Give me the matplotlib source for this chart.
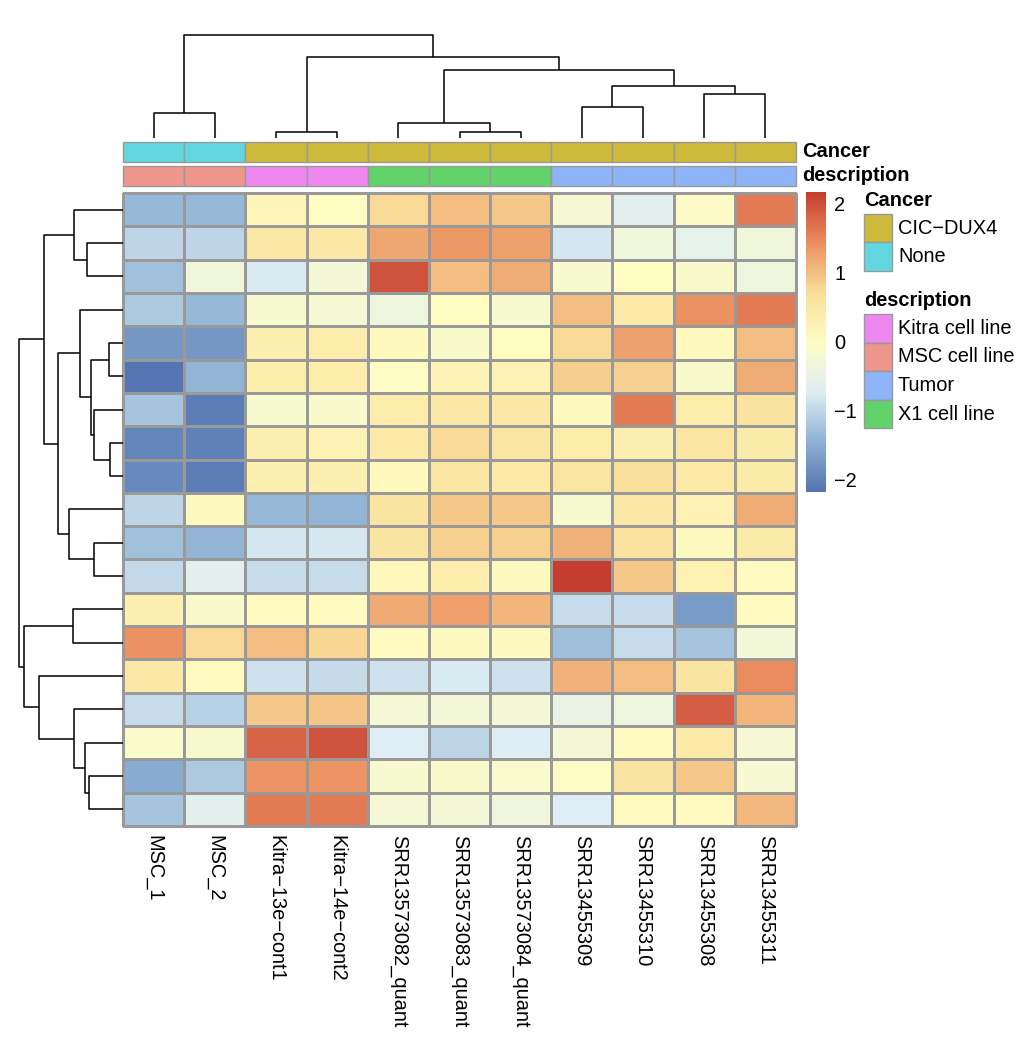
import numpy as np
import matplotlib
matplotlib.use("Agg")
import matplotlib.pyplot as plt
from matplotlib.colors import LinearSegmentedColormap
from matplotlib.patches import Rectangle

plt.rcParams['font.family'] = ['Liberation Sans', 'DejaVu Sans']

# column order as shown (already clustered)
samples = ["MSC_1", "MSC_2", "Kitra\u221213e\u2212cont1", "Kitra\u221214e\u2212cont2",
           "SRR13573082_quant", "SRR13573083_quant", "SRR13573084_quant",
           "SRR13455309", "SRR13455310", "SRR13455308", "SRR13455311"]
cancer = ["None", "None", "CIC-DUX4", "CIC-DUX4", "CIC-DUX4", "CIC-DUX4", "CIC-DUX4",
          "CIC-DUX4", "CIC-DUX4", "CIC-DUX4", "CIC-DUX4"]
description = ["MSC cell line", "MSC cell line", "Kitra cell line", "Kitra cell line",
               "X1 cell line", "X1 cell line", "X1 cell line",
               "Tumor", "Tumor", "Tumor", "Tumor"]

cancer_colors = {"CIC-DUX4": "#CDB93B", "None": "#62D6DF"}
desc_colors = {"Kitra cell line": "#EE88F0", "MSC cell line": "#EE968C",
               "Tumor": "#8CB4F6", "X1 cell line": "#62D36A"}

# scaled values, rows in displayed order
values = np.array([
    [-1.35, -1.35, 0.20, 0.05, 0.80, 1.05, 0.95, -0.20, -0.60, -0.05, 1.65],
    [-1.00, -1.00, 0.55, 0.55, 1.25, 1.40, 1.30, -0.80, -0.30, -0.55, -0.30],
    [-1.25, -0.30, -0.75, -0.25, 2.00, 1.05, 1.20, -0.15, 0.05, -0.10, -0.35],
    [-1.15, -1.35, -0.15, -0.20, -0.35, 0.05, -0.15, 1.05, 0.50, 1.45, 1.65],
    [-1.75, -1.75, 0.35, 0.40, 0.10, -0.10, 0.05, 0.80, 1.30, 0.10, 1.05],
    [-2.15, -1.40, 0.40, 0.40, 0.00, 0.25, 0.30, 0.90, 0.88, -0.10, 1.20],
    [-1.20, -2.05, -0.15, -0.10, 0.40, 0.55, 0.55, 0.10, 1.65, 0.40, 0.65],
    [-1.95, -2.00, 0.35, 0.30, 0.50, 0.80, 0.60, 0.40, 0.35, 0.60, 0.45],
    [-1.90, -2.05, 0.35, 0.35, 0.15, 0.60, 0.50, 0.60, 0.72, 0.50, 0.45],
    [-1.00, 0.10, -1.35, -1.40, 0.62, 0.95, 0.95, -0.15, 0.55, 0.30, 1.20],
    [-1.25, -1.40, -0.80, -0.78, 0.62, 0.88, 0.88, 1.15, 0.68, 0.10, 0.45],
    [-0.95, -0.60, -0.92, -0.92, 0.15, 0.40, 0.12, 2.20, 0.95, 0.33, 0.08],
    [0.38, -0.10, 0.08, 0.08, 1.22, 1.32, 1.12, -0.92, -0.92, -1.70, 0.08],
    [1.45, 0.80, 1.05, 0.82, 0.08, 0.10, 0.10, -1.28, -0.92, -1.22, -0.28],
    [0.52, 0.08, -0.85, -0.93, -0.85, -0.75, -0.85, 1.15, 1.05, 0.62, 1.50],
    [-0.92, -1.05, 0.95, 0.98, -0.22, -0.28, -0.25, -0.45, -0.35, 1.90, 1.12],
    [-0.08, -0.15, 1.85, 2.00, -0.70, -1.00, -0.72, -0.25, 0.08, 0.50, -0.20],
    [-1.50, -1.15, 1.42, 1.42, -0.15, -0.10, -0.12, -0.02, 0.62, 0.95, -0.18],
    [-1.20, -0.60, 1.65, 1.65, -0.22, -0.25, -0.32, -0.70, 0.08, 0.08, 1.10],
])

# dendrogram merges: (left id, right id, height); ids >= n are earlier merges
col_merges = [(2, 3, 6), (5, 6, 6), (4, 12, 15.3), (0, 1, 25.3), (7, 8, 31),
              (9, 10, 44.3), (15, 16, 52.3), (13, 17, 68.3), (11, 18, 81.3),
              (14, 19, 103.3)]
row_merges = [(7, 8, 13), (4, 5, 14), (6, 19, 28.7), (10, 11, 29), (20, 21, 31.7),
              (17, 18, 34.3), (1, 2, 36), (16, 24, 38.3), (3, 23, 42.7), (0, 25, 49),
              (15, 26, 49.3), (12, 13, 50.3), (9, 22, 54), (27, 31, 65.3),
              (28, 32, 79.3), (14, 29, 84.3), (30, 34, 99), (33, 35, 104.3)]

W, H = 1026, 1040
fig = plt.figure(figsize=(W / 100, H / 100), dpi=100)


def px_axes(x0, y0, x1, y1):
    return fig.add_axes([x0 / W, 1 - y1 / H, (x1 - x0) / W, (y1 - y0) / H])


def dendro_segments(n, merges):
    pos = {i: i + 0.5 for i in range(n)}
    hgt = {i: 0.0 for i in range(n)}
    segs = []
    for k, (a, b, h) in enumerate(merges):
        segs.append([(pos[a], hgt[a]), (pos[a], h), (pos[b], h), (pos[b], hgt[b])])
        pos[n + k] = (pos[a] + pos[b]) / 2
        hgt[n + k] = h
    return segs


# RdYlBu ramp, as it renders in the reference
cmap = LinearSegmentedColormap.from_list(
    "rdylbu", ["#5475B1", "#8FB3D5", "#DFEEF4", "#FFFDC3", "#F9DF9A", "#EB8F60", "#C53D31"])
vmin, vmax = values.min(), values.max()
nr, nc = values.shape
fs = 14.4

# heatmap
ax = px_axes(123, 193, 796, 826)
mesh = ax.pcolormesh(np.arange(nc + 1), np.arange(nr + 1), values, cmap=cmap,
                     vmin=vmin, vmax=vmax, edgecolors="#999999", linewidth=1.0)
mesh.set_clip_on(False)
ax.set_xlim(0, nc)
ax.set_ylim(nr, 0)
ax.axis("off")
for i, s in enumerate(samples):
    ax.text(i + 0.5, nr + 0.28, s, rotation=-90, ha="center", va="top", fontsize=fs)

# column dendrogram
axc = px_axes(123, 34.7, 796, 138)
for seg in dendro_segments(nc, col_merges):
    xs, ys = zip(*seg)
    axc.plot(xs, ys, color="black", lw=1.1, clip_on=False, solid_capstyle="butt")
axc.set_xlim(0, nc)
axc.set_ylim(0, 103.3)
axc.axis("off")

# row dendrogram
axr = px_axes(19, 193, 123, 826)
for seg in dendro_segments(nr, row_merges):
    ys, xs = zip(*seg)
    axr.plot(xs, ys, color="black", lw=1.1, clip_on=False, solid_capstyle="butt")
axr.set_xlim(104.3, 0)
axr.set_ylim(nr, 0)
axr.axis("off")

# annotation bars
for (y0, y1, labels, cols, name) in [(141.5, 161.5, cancer, cancer_colors, "Cancer"),
                                      (165.5, 185.5, description, desc_colors, "description")]:
    axa = px_axes(123, y0, 796, y1)
    for i, lab in enumerate(labels):
        axa.add_patch(Rectangle((i, 0), 1, 1, facecolor=cols[lab], edgecolor="#999999",
                                lw=1.0, clip_on=False))
    axa.set_xlim(0, nc)
    axa.set_ylim(0, 1)
    axa.axis("off")
    fig.text(802 / W, 1 - (y0 + y1) / 2 / H, name, fontsize=fs, fontweight="bold",
             ha="left", va="center")

# colour legend
axl = px_axes(806, 192, 826, 492)
grad = np.linspace(vmax, vmin, 200).reshape(-1, 1)
axl.imshow(grad, cmap=cmap, vmin=vmin, vmax=vmax, aspect="auto",
           extent=[0, 1, vmin, vmax])
axl.set_ylim(vmin, vmax)
axl.axis("off")
for t in [-2, -1, 0, 1, 2]:
    axl.text(1.4, t, str(t).replace("-", "\u2212"), transform=axl.get_yaxis_transform(),
             ha="left", va="center", fontsize=fs)

# annotation legends
ov = fig.add_axes([0, 0, 1, 1])
ov.set_xlim(0, W)
ov.set_ylim(H, 0)
ov.axis("off")
ov.patch.set_alpha(0)
for title, y_title, y_box, cols in [("Cancer", 200, 213.5, cancer_colors),
                                     ("description", 300, 314, desc_colors)]:
    ov.text(864, y_title, title, fontsize=fs, fontweight="bold", ha="left", va="center")
    for j, (lab, c) in enumerate(cols.items()):
        yy = y_box + j * 28.5
        ov.add_patch(Rectangle((864, yy), 28, 28.5, facecolor=c, edgecolor="#999999", lw=1.0))
        ov.text(898, yy + 14.5, lab.replace("-", "\u2212"), fontsize=fs, ha="left", va="center")

fig.savefig("out.png", dpi=100)
